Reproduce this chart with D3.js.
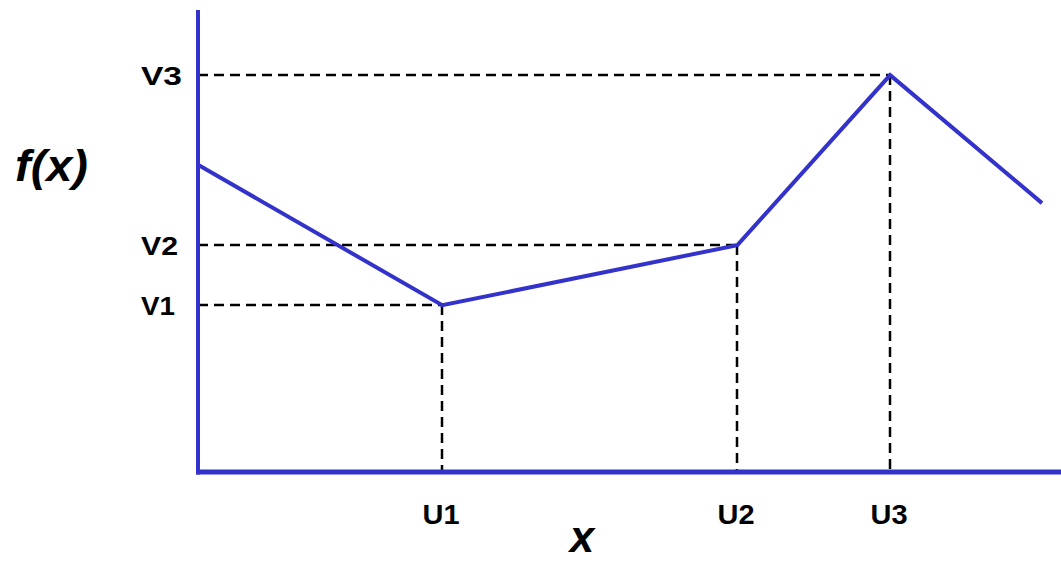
<!DOCTYPE html>
<html><head><meta charset="utf-8">
<script src="https://cdn.jsdelivr.net/npm/d3@7"></script>
<style>body{margin:0;background:#fff}svg{display:block}text{font-family:Arial,"Liberation Sans",sans-serif;font-weight:bold;fill:#000}</style>
</head><body><svg id="c" width="1061" height="562"></svg>
<script>
const xValues = [0, 28.3, 62.5, 80.2, 97.8];
const yValues = [66.5, 36.1, 49.1, 85.9, 58.2];
const xTickLabels = ["U1", "U2", "U3"];
const yTickLabels = ["V1", "V2", "V3"];
const markedIdx = [1, 2, 3];

const svg = d3.select("#c");
const x = d3.scaleLinear().domain([0, 100]).range([198, 1061]);
const y = d3.scaleLinear().domain([0, 100]).range([472, 10]);
const blue = "#3333cc";

// dashed guides
markedIdx.forEach((i, k) => {
  const px = Math.round(x(xValues[i])), py = Math.round(y(yValues[i]));
  svg.append("line").attr("x1", x(0)).attr("x2", px)
    .attr("y1", py).attr("y2", py)
    .attr("stroke", "#000").attr("stroke-width", 2.5).attr("stroke-dasharray", "10,6");
  svg.append("line").attr("x1", px).attr("x2", px)
    .attr("y1", py).attr("y2", y(0))
    .attr("stroke", "#000").attr("stroke-width", 2.5).attr("stroke-dasharray", "10,6");
  svg.append("text").attr("x", 141).attr("y", py + 10)
    .attr("font-size", 26).attr("textLength", [34, 37, 41][k]).attr("lengthAdjust", "spacingAndGlyphs")
    .text(yTickLabels[k]);
  svg.append("text").attr("x", px - 1).attr("y", 524).attr("text-anchor", "middle")
    .attr("font-size", 27).attr("textLength", 37).attr("lengthAdjust", "spacingAndGlyphs")
    .text(xTickLabels[k]);
});

// axes
svg.append("line").attr("x1", x(0)).attr("x2", x(0)).attr("y1", y(100)).attr("y2", y(0) + 2.5)
  .attr("stroke", blue).attr("stroke-width", 4);
svg.append("line").attr("x1", x(0) - 2).attr("x2", x(100)).attr("y1", y(0)).attr("y2", y(0))
  .attr("stroke", blue).attr("stroke-width", 5);

// function line
const pts = xValues.map((v, i) => [v, yValues[i]]);
svg.append("path").datum(pts)
  .attr("d", d3.line().x(d => x(d[0])).y(d => y(d[1])))
  .attr("fill", "none").attr("stroke", blue).attr("stroke-width", 4).attr("stroke-linejoin", "miter");

// axis titles
svg.append("text").attr("x", 15).attr("y", 181).attr("font-size", 44).attr("font-style", "italic")
  .attr("textLength", 73).attr("lengthAdjust", "spacingAndGlyphs").text("f(x)");
svg.append("text").attr("x", 582).attr("y", 552).attr("text-anchor", "middle").attr("font-size", 44)
  .attr("font-style", "italic").text("x");
</script></body></html>
